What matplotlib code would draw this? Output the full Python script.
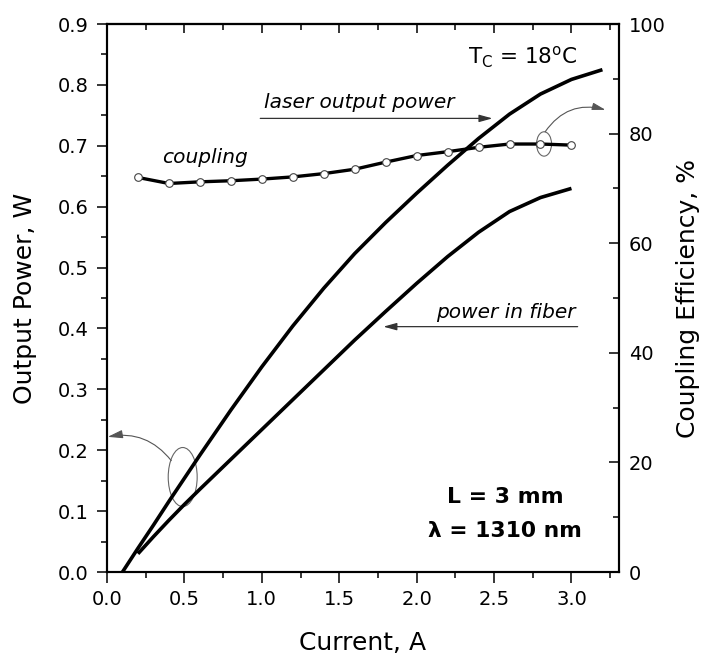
import matplotlib
matplotlib.use("Agg")
import matplotlib.pyplot as plt
from matplotlib.ticker import MultipleLocator
from matplotlib.patches import Ellipse, FancyArrowPatch

plt.rcParams['font.family'] = ['DejaVu Sans']
plt.rcParams['mathtext.default'] = 'regular'

# ---- data ----
laser_current = [0.10, 0.20, 0.30, 0.40, 0.50, 0.60, 0.80, 1.00, 1.20, 1.40, 1.60, 1.80,
                 2.00, 2.20, 2.40, 2.60, 2.80, 3.00, 3.20]
laser_power   = [0.000, 0.039, 0.077, 0.116, 0.154, 0.192, 0.266, 0.337, 0.404, 0.466,
                 0.523, 0.574, 0.622, 0.668, 0.712, 0.752, 0.785, 0.809, 0.825]

fiber_current = [0.20, 0.30, 0.40, 0.50, 0.60, 0.80, 1.00, 1.20, 1.40, 1.60, 1.80,
                 2.00, 2.20, 2.40, 2.60, 2.80, 3.00]
fiber_power   = [0.030, 0.058, 0.085, 0.111, 0.136, 0.185, 0.234, 0.283, 0.332, 0.381,
                 0.428, 0.474, 0.518, 0.558, 0.592, 0.615, 0.630]

coupling_current = [0.2, 0.4, 0.6, 0.8, 1.0, 1.2, 1.4, 1.6, 1.8, 2.0, 2.2, 2.4, 2.6, 2.8, 3.0]
coupling_eff     = [72.0, 70.9, 71.2, 71.4, 71.7, 72.1, 72.7, 73.5, 74.8, 76.0, 76.7, 77.5, 78.1, 78.1, 77.9]

x_ticks = [0.0, 0.5, 1.0, 1.5, 2.0, 2.5, 3.0]
y_ticks = [0.0, 0.1, 0.2, 0.3, 0.4, 0.5, 0.6, 0.7, 0.8, 0.9]
y2_ticks = [0, 20, 40, 60, 80, 100]

fig = plt.figure(figsize=(7.02, 6.56), dpi=100)
ax = fig.add_axes([0.1524, 0.128, 0.7289, 0.8354])

ax.plot(laser_current, laser_power, color='black', lw=2.6, solid_capstyle='butt',
        solid_joinstyle='round')
ax.plot(fiber_current, fiber_power, color='black', lw=2.6, solid_capstyle='butt',
        solid_joinstyle='round')

ax.set_xlim(0, 3.305)
ax.set_ylim(0, 0.9)
ax.set_xticks(x_ticks)
ax.set_xticklabels([f"{v:.1f}" for v in x_ticks])
ax.set_yticks(y_ticks)
ax.set_yticklabels([f"{v:.1f}" for v in y_ticks])
ax.xaxis.set_minor_locator(MultipleLocator(0.25))
ax.yaxis.set_minor_locator(MultipleLocator(0.05))

ax.tick_params(axis='x', which='major', direction='out', length=8, width=1.1,
               pad=5, labelsize=14, top=False)
ax.tick_params(axis='x', which='minor', direction='out', length=4.5, width=1.1, top=False)
ax.tick_params(axis='y', which='major', direction='out', length=7.4, width=1.1,
               pad=6, labelsize=14, right=False)
ax.tick_params(axis='y', which='minor', direction='out', length=4.3, width=1.1, right=False)
for s in ax.spines.values():
    s.set_linewidth(1.5)

ax.set_xlabel('Current, A', fontsize=18, labelpad=16)
ax.set_ylabel('Output Power, W', fontsize=18, labelpad=15)

# top axis with inward ticks
secx = ax.secondary_xaxis('top')
secx.set_xticks(x_ticks)
secx.set_xticklabels([])
secx.xaxis.set_minor_locator(MultipleLocator(0.25))
secx.tick_params(axis='x', which='major', direction='in', length=6.5, width=1.1)
secx.tick_params(axis='x', which='minor', direction='in', length=4.5, width=1.1)
secx.spines['top'].set_linewidth(1.5)

# right axis
ax2 = ax.twinx()
ax2.set_ylim(0, 100)
ax2.set_yticks(y2_ticks)
ax2.yaxis.set_minor_locator(MultipleLocator(10))
ax2.tick_params(axis='y', which='major', direction='in', length=7, width=1.1,
                pad=7.4, labelsize=14)
ax2.tick_params(axis='y', which='minor', direction='in', length=4, width=1.1)
for s in ax2.spines.values():
    s.set_linewidth(1.5)
ax2.set_ylabel('Coupling Efficiency, %', fontsize=18, labelpad=7)

ax2.plot(coupling_current, coupling_eff, color='black', lw=2.4,
         solid_joinstyle='round',
         marker='o', markersize=5.5, markerfacecolor='white',
         markeredgecolor='#444444', markeredgewidth=0.8)

# annotations
ax.text(0.633, 0.672, 'coupling', fontsize=14.5, style='italic', ha='center', va='baseline')
ax.text(1.632, 0.7615, 'laser output power', fontsize=14.5, style='italic', ha='center', va='baseline')
ax.text(2.576, 0.4166, 'power in fiber', fontsize=14.5, style='italic', ha='center', va='baseline')
ax.text(2.332, 0.834, r'T$_\mathregular{C}$ = 18$^\mathregular{o}$C', fontsize=15.5, ha='left', va='baseline')
ax.text(2.57, 0.1128, 'L = 3 mm', fontsize=15.8, fontweight='bold', ha='center', va='baseline')
ax.text(2.568, 0.057, 'λ = 1310 nm', fontsize=15.7, fontweight='bold', ha='center', va='baseline')

arrow_kw = dict(arrowstyle='-|>,head_length=0.8,head_width=0.22', mutation_scale=10,
                color='#333333', lw=0.9, shrinkA=0, shrinkB=0)
ax.annotate('', xy=(2.49, 0.745), xytext=(0.99, 0.745), arrowprops=arrow_kw)
ax.annotate('', xy=(1.785, 0.403), xytext=(3.04, 0.403), arrowprops=arrow_kw)

ax.add_patch(Ellipse((0.489, 0.156), 0.187, 0.097, fill=False, edgecolor='#666666', lw=0.8))
ax.add_patch(Ellipse((2.823, 0.703), 0.097, 0.040, fill=False, edgecolor='#666666', lw=0.8))

ax.add_patch(FancyArrowPatch(posA=(0.415, 0.183), posB=(0.005, 0.222),
                             connectionstyle='arc3,rad=0.3',
                             arrowstyle='-|>,head_length=0.9,head_width=0.25',
                             mutation_scale=10, color='#555555', lw=0.8,
                             shrinkA=0, shrinkB=0))
ax.add_patch(FancyArrowPatch(posA=(2.83, 0.723), posB=(3.22, 0.759),
                             connectionstyle='arc3,rad=-0.35',
                             arrowstyle='-|>,head_length=0.8,head_width=0.22',
                             mutation_scale=10, color='#555555', lw=0.8,
                             shrinkA=0, shrinkB=0))

fig.savefig('out.png', dpi=100)
